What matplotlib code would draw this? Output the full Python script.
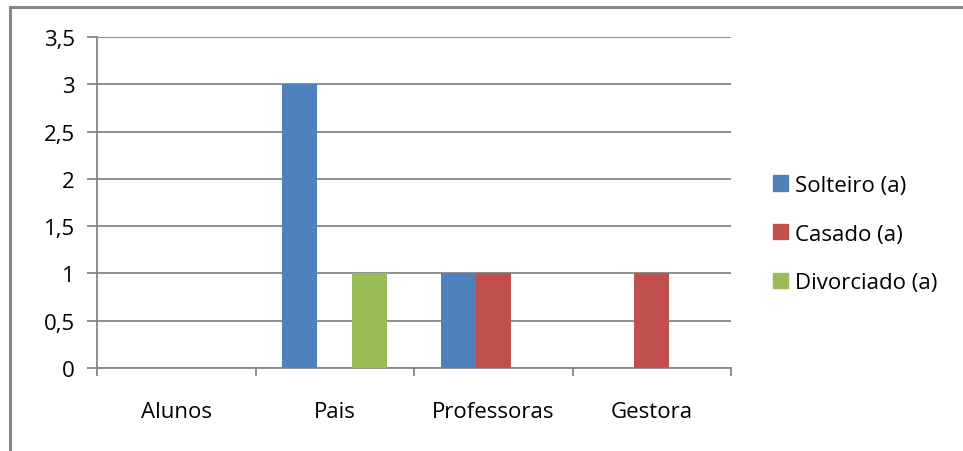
import matplotlib
matplotlib.use("Agg")
import matplotlib.pyplot as plt
import numpy as np
from matplotlib.lines import Line2D
from matplotlib.ticker import FuncFormatter

categories = ["Alunos", "Pais", "Professoras", "Gestora"]
series = ["Solteiro (a)", "Casado (a)", "Divorciado (a)"]
solteiro = [0, 3, 1, 0]
casado = [0, 0, 1, 1]
divorciado = [0, 1, 0, 0]
colors = ["#4F81BD", "#C0504D", "#9BBB59"]

plt.rcParams['font.family'] = ['Open Sans', 'DejaVu Sans']
GRID = "#868686"
FS = 16


def main():
    fig = plt.figure(figsize=(9.63, 4.52), dpi=100)
    ax = fig.add_axes([97 / 963, 1 - 369 / 452, (731 - 97) / 963, (369 - 38) / 452])

    x = np.arange(len(categories))
    w = 0.22
    for i, (vals, c, name) in enumerate(zip([solteiro, casado, divorciado], colors, series)):
        ax.bar(x + (i - 1) * w, vals, width=w, color=c, label=name, zorder=3)

    ax.set_xlim(-0.5, len(categories) - 0.5)
    ax.set_ylim(0, 3.5)
    ax.set_yticks(np.arange(0, 3.51, 0.5))
    ax.yaxis.set_major_formatter(FuncFormatter(
        lambda v, p: ("%g" % v).replace(".", ",")))
    ax.yaxis.grid(True, color=GRID, linewidth=1.3, zorder=0)

    # category boundaries get the tick marks, names sit in between
    ax.set_xticks(np.arange(-0.5, len(categories), 1.0))
    ax.set_xticklabels([])
    ax.set_xticks(x, minor=True)
    ax.set_xticklabels(categories, minor=True, fontsize=FS)
    ax.tick_params(axis="x", which="major", length=6, width=1.3, color=GRID, direction="out")
    ax.tick_params(axis="x", which="minor", length=0, pad=24)
    ax.tick_params(axis="y", length=7, width=1.3, color=GRID, labelsize=FS, pad=9)

    for s in ["top", "right"]:
        ax.spines[s].set_visible(False)
    for s in ["left", "bottom"]:
        ax.spines[s].set_color(GRID)
        ax.spines[s].set_linewidth(1.3)

    handles = [plt.Rectangle((0, 0), 1, 1, color=c) for c in colors]
    fig.legend(handles, series, loc="center left", bbox_to_anchor=(773 / 963, 1 - 235 / 452),
               frameon=False, fontsize=FS, handlelength=0.68, handleheight=0.68,
               handletextpad=0.3, labelspacing=1.25, borderpad=0, borderaxespad=0)

    # outer chart frame
    fig.add_artist(Line2D([10 / 963, 10 / 963], [0, 1 - 8 / 452], color=GRID, linewidth=2.2))
    fig.add_artist(Line2D([10 / 963, 1], [1 - 8 / 452, 1 - 8 / 452], color=GRID, linewidth=2.2))

    fig.savefig("out.png", dpi=100)


if __name__ == '__main__':
    main()
